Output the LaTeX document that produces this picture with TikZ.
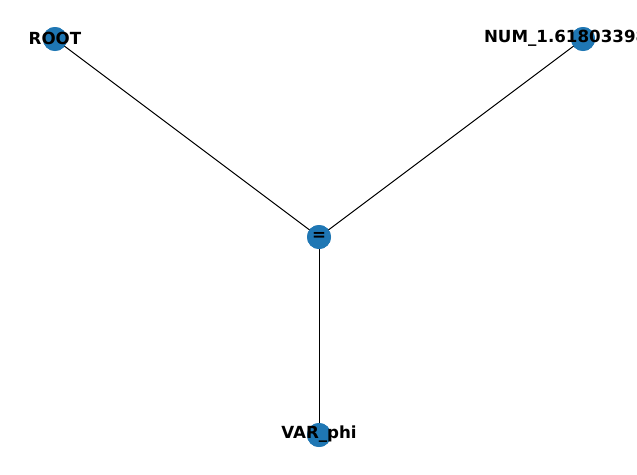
\documentclass[tikz,border=0pt]{standalone}
\usepackage{fontspec}
\setmainfont{DejaVu Sans}
\definecolor{nodeblue}{HTML}{1F77B4}
\begin{document}
\begin{tikzpicture}[x=1pt,y=-1pt,
  dot/.style={circle,fill=nodeblue,draw=none,minimum size=24pt,inner sep=0pt},
  lbl/.style={font=\fontsize{16.67}{20}\selectfont\bfseries,inner sep=0pt,text=black,yshift=1pt},
  edge/.style={line width=1pt,black}]
\useasboundingbox (0,0) rectangle (637,474);
\clip (0,0) rectangle (637,474);
\node[dot] (root) at (55,39) {};
\node[dot] (num) at (583,39) {};
\node[dot] (eq) at (319,237) {};
\node[dot] (var) at (319,435) {};
\draw[edge] (root.center) -- (eq.center);
\draw[edge] (num.center) -- (eq.center);
\draw[edge] (eq.center) -- (var.center);
\node[dot] at (root) {};
\node[dot] at (num) {};
\node[dot] at (eq) {};
\node[dot] at (var) {};
\node[lbl] (rootl) at (root) {ROOT};
\node[lbl] (numl) at (num) {NUM\_1.61803398875};
\node[lbl] (eql) at (eq) {=};
\node[lbl] (varl) at (var) {VAR\_phi};
\end{tikzpicture}
\end{document}
